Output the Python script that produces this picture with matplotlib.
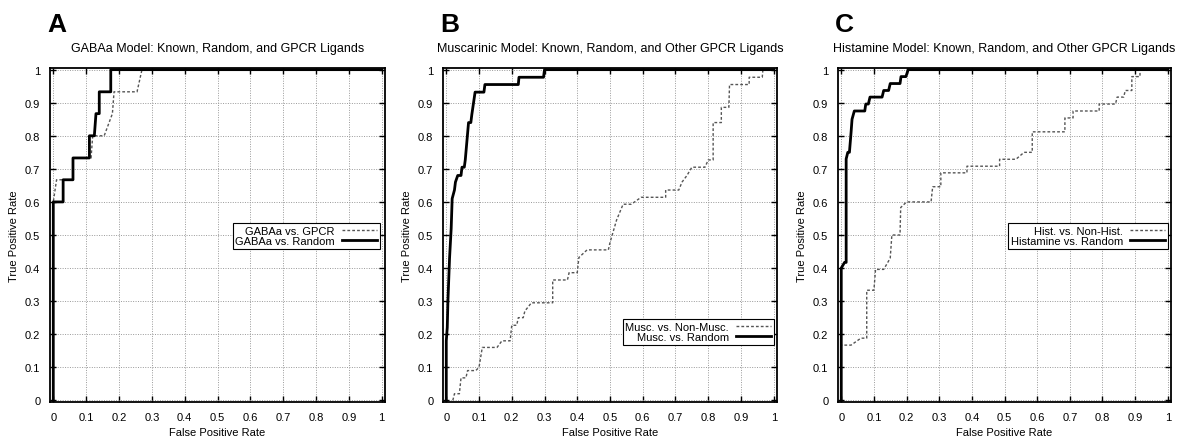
import matplotlib
matplotlib.use("Agg")
import matplotlib.pyplot as plt
import numpy as np

plt.rcParams['font.family'] = ['Liberation Sans', 'DejaVu Sans']

# ---- data (FPR, TPR pairs) ----
# A: GABAa
a_gpcr_fpr = [0, 0, 0.01, 0.03, 0.06, 0.06, 0.115, 0.12, 0.155, 0.18, 0.185, 0.255, 0.27, 1.0]
a_gpcr_tpr = [0, 0.6, 0.667, 0.667, 0.667, 0.733, 0.733, 0.8, 0.8, 0.867, 0.933, 0.933, 1.0, 1.0]
a_rand_fpr = [0, 0, 0.03, 0.03, 0.06, 0.06, 0.11, 0.11, 0.125, 0.13, 0.14, 0.14, 0.175, 0.175, 1.0]
a_rand_tpr = [0, 0.6, 0.6, 0.667, 0.667, 0.733, 0.733, 0.8, 0.8, 0.867, 0.867, 0.933, 0.933, 1.0, 1.0]

# B: Muscarinic
b_other_fpr = [0.02, 0.025, 0.04, 0.045, 0.06, 0.065, 0.09, 0.1, 0.11, 0.155, 0.17, 0.195, 0.2,
               0.215, 0.22, 0.235, 0.24, 0.26, 0.325, 0.325, 0.37, 0.375, 0.40, 0.405, 0.43,
               0.495, 0.5, 0.515, 0.52, 0.54, 0.565, 0.595, 0.67, 0.67, 0.71, 0.72, 0.735,
               0.75, 0.79, 0.80, 0.815, 0.815, 0.84, 0.84, 0.863, 0.865, 0.925, 0.925, 0.965,
               0.967, 1.0]
b_other_tpr = [0.0, 0.02, 0.02, 0.068, 0.068, 0.09, 0.09, 0.1, 0.16, 0.16, 0.18, 0.18, 0.227,
               0.227, 0.25, 0.25, 0.27, 0.295, 0.295, 0.364, 0.364, 0.386, 0.386, 0.432, 0.455,
               0.455, 0.477, 0.528, 0.545, 0.593, 0.593, 0.614, 0.614, 0.636, 0.636, 0.66, 0.68,
               0.705, 0.705, 0.727, 0.727, 0.84, 0.84, 0.886, 0.886, 0.955, 0.955, 0.977, 0.977,
               1.0, 1.0]
b_rand_fpr = [0, 0, 0.003, 0.005, 0.01, 0.015, 0.018, 0.025, 0.028, 0.035, 0.045, 0.048, 0.055,
              0.058, 0.068, 0.075, 0.078, 0.088, 0.115, 0.118, 0.22, 0.222, 0.297, 0.30, 1.0]
b_rand_tpr = [0, 0.18, 0.22, 0.3, 0.43, 0.52, 0.61, 0.636, 0.66, 0.68, 0.68, 0.705, 0.705,
              0.727, 0.84, 0.84, 0.864, 0.932, 0.932, 0.955, 0.955, 0.977, 0.977, 1.0, 1.0]

# C: Histamine
c_other_fpr = [0, 0, 0.03, 0.06, 0.078, 0.078, 0.1, 0.105, 0.13, 0.15, 0.155, 0.18, 0.182, 0.2,
               0.275, 0.28, 0.305, 0.305, 0.385, 0.385, 0.485, 0.485, 0.535, 0.56, 0.585,
               0.585, 0.685, 0.685, 0.71, 0.71, 0.79, 0.79, 0.84, 0.845, 0.865, 0.87, 0.89,
               0.89, 0.915, 0.915]
c_other_tpr = [0, 0.167, 0.167, 0.188, 0.188, 0.333, 0.333, 0.396, 0.396, 0.43, 0.5, 0.5, 0.583,
               0.6, 0.6, 0.646, 0.646, 0.688, 0.688, 0.708, 0.708, 0.729, 0.729, 0.75, 0.75,
               0.812, 0.812, 0.854, 0.854, 0.875, 0.875, 0.896, 0.896, 0.917, 0.917, 0.937,
               0.937, 0.979, 0.979, 1.0]
c_rand_fpr = [0, 0, 0.01, 0.015, 0.015, 0.02, 0.025, 0.03, 0.033, 0.04, 0.072, 0.075, 0.083,
              0.088, 0.125, 0.13, 0.145, 0.15, 0.18, 0.183, 0.198, 0.205, 1.0]
c_rand_tpr = [0, 0.4, 0.417, 0.417, 0.73, 0.75, 0.75, 0.81, 0.85, 0.875, 0.875, 0.896, 0.896,
              0.917, 0.917, 0.937, 0.937, 0.958, 0.958, 0.979, 0.979, 1.0, 1.0]

titles = ["GABAa Model: Known, Random, and GPCR Ligands",
          "Muscarinic Model: Known, Random, and Other GPCR Ligands",
          "Histamine Model: Known, Random, and Other GPCR Ligands"]
letters = ["A", "B", "C"]
other_labels = ["GABAa vs. GPCR", "Musc. vs. Non-Musc.", "Hist. vs. Non-Hist."]
rand_labels = ["GABAa vs. Random", "Musc. vs. Random", "Histamine vs. Random"]

others = [(a_gpcr_fpr, a_gpcr_tpr), (b_other_fpr, b_other_tpr), (c_other_fpr, c_other_tpr)]
rands = [(a_rand_fpr, a_rand_tpr), (b_rand_fpr, b_rand_tpr), (c_rand_fpr, c_rand_tpr)]

W, H = 1181, 439
fig = plt.figure(figsize=(W / 100, H / 100), dpi=100)

# axes boxes in pixels: left, right, top, bottom
boxes = [(50, 385, 69, 403), (443, 777, 69, 403), (838, 1171, 69, 403)]
legend_anchor = [(0.985, 0.536, 'upper right'), (0.991, 0.171, 'lower right'), (0.991, 0.536, 'upper right')]
ticks = np.round(np.arange(0, 1.01, 0.1), 1)
ticklabels = ['0'] + ['%.1f' % t for t in ticks[1:-1]] + ['1']

for i in range(3):
    l, r, t, b = boxes[i]
    ax = fig.add_axes([l / W, 1 - b / H, (r - l) / W, (b - t) / H])

    ax.plot(*others[i], color='#555555', lw=1.0, ls=(0, (2, 1.5)), label=other_labels[i])
    ax.plot(*rands[i], color='black', lw=2.0, label=rand_labels[i])

    ax.set_xlim(-0.01, 1.01)
    ax.set_ylim(-0.005, 1.005)
    ax.set_xticks(ticks)
    ax.set_yticks(ticks)
    ax.set_xticklabels(ticklabels)
    ax.set_yticklabels(ticklabels)
    ax.tick_params(direction='in', top=True, right=True, length=4, width=1,
                   labelsize=8, pad=7)
    ax.grid(True, color='#999999', ls=(0, (1, 1.5)), lw=0.7)
    for s in ax.spines.values():
        s.set_linewidth(1.3)

    ax.set_title(titles[i], fontsize=9, pad=12)
    ax.set_xlabel("False Positive Rate", fontsize=8, labelpad=4)
    ax.set_ylabel("True Positive Rate", fontsize=8, labelpad=4)

    lx, ly, loc = legend_anchor[i]
    leg = ax.legend(loc=loc, bbox_to_anchor=(lx, ly), fontsize=8, markerfirst=False,
                    fancybox=False, framealpha=1, edgecolor='black', handlelength=3.2,
                    borderpad=0.25, labelspacing=0.05, borderaxespad=0, handletextpad=0.6)
    leg.get_frame().set_linewidth(0.8)
    for txt in leg.get_texts():
        txt.set_ha('right')

    fig.text((l - 3) / W, 1 - 13 / H, letters[i], fontsize=19, fontweight='bold',
             va='top', ha='left')

fig.savefig("out.png", dpi=100)
